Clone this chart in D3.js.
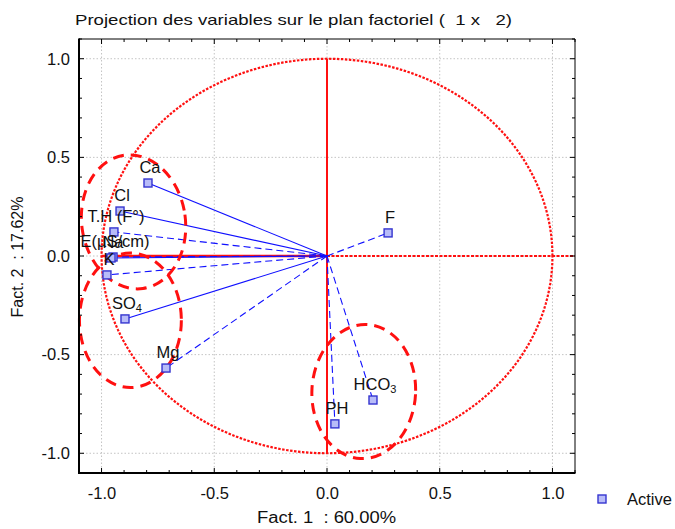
<!DOCTYPE html>
<html><head><meta charset="utf-8">
<script src="https://cdn.jsdelivr.net/npm/d3@7"></script>
<style>body{margin:0;background:#fff}svg{display:block;font-family:Arial,"Liberation Sans",sans-serif}</style>
</head><body><svg id="c" width="675" height="529"></svg>
<script>
const title = "Projection des variables sur le plan factoriel (  1 x   2)";
const xTitle = "Fact. 1  : 60.00%";
const yTitle = "Fact. 2  : 17.62%";
const tickValues = [-1.0, -0.5, 0.0, 0.5, 1.0];
const variables = ["Ca", "Cl", "T.H (F°)", "E(µS/cm)", "Na", "K", "SO|4", "Mg", "F", "HCO|3", "PH"];
const fact1 = [-0.794, -0.918, -0.945, -0.949, -0.958, -0.976, -0.896, -0.714, 0.271, 0.204, 0.035];
const fact2 = [0.370, 0.228, 0.122, -0.005, -0.010, -0.096, -0.319, -0.568, 0.117, -0.730, -0.851];
const lineDashed = [false, false, true, true, false, true, false, true, true, true, true];
const groupCx = [-0.858, -0.872, 0.163];
const groupCy = [0.173, -0.326, -0.687];
const groupRx = [0.230, 0.226, 0.230];
const groupRy = [0.341, 0.341, 0.340];
const groupRot = [-8, 0, 3];
const legendLabel = "Active";

const svg = d3.select("#c");
const x = d3.scaleLinear().domain([-1.1, 1.1]).range([79, 575]);
const y = d3.scaleLinear().domain([-1.1, 1.1]).range([473, 39]);
const [x0, x1] = x.range(), [y0, y1] = y.range();

// grid
const g = svg.append("g");
tickValues.forEach(v => {
  g.append("line").attr("x1", x(v)).attr("x2", x(v)).attr("y1", y1).attr("y2", y0)
    .attr("stroke", "#c4c4c4").attr("stroke-dasharray", "1.5,2");
  g.append("line").attr("y1", y(v)).attr("y2", y(v)).attr("x1", x0).attr("x2", x1)
    .attr("stroke", "#c4c4c4").attr("stroke-dasharray", "1.5,2");
});

// unit circle
const circ = d3.range(0, 361, 2).map(a => [Math.cos(a * Math.PI / 180), Math.sin(a * Math.PI / 180)]);
svg.append("path").attr("d", d3.line().x(d => x(d[0])).y(d => y(d[1]))(circ))
  .attr("fill", "none").attr("stroke", "#ff1010").attr("stroke-width", 2.2).attr("stroke-dasharray", "2.5,1.5");

// red axes
svg.append("line").attr("x1", x(0)).attr("x2", x(0)).attr("y1", y(1)).attr("y2", y(-1))
  .attr("stroke", "#ff1010").attr("stroke-width", 2);
svg.append("line").attr("x1", x(-1)).attr("x2", x(0)).attr("y1", y(0)).attr("y2", y(0))
  .attr("stroke", "#ff1010").attr("stroke-width", 2.5);
svg.append("line").attr("x1", x(0)).attr("x2", x(1.1)).attr("y1", y(0)).attr("y2", y(0))
  .attr("stroke", "#ff1010").attr("stroke-width", 2).attr("stroke-dasharray", "3,1.5");

// vectors
variables.forEach((v, i) => {
  svg.append("line").attr("x1", x(0)).attr("y1", y(0)).attr("x2", x(fact1[i])).attr("y2", y(fact2[i]))
    .attr("stroke", "#1010ff").attr("stroke-width", 1.1)
    .attr("stroke-dasharray", lineDashed[i] ? "7,4" : null);
});

// ellipses
groupCx.forEach((c, i) => {
  const rx = x(groupRx[i]) - x(0), ry = y(0) - y(groupRy[i]);
  svg.append("ellipse").attr("cx", 0).attr("cy", 0).attr("rx", rx).attr("ry", ry)
    .attr("transform", `translate(${x(c)},${y(groupCy[i])}) rotate(${groupRot[i]})`)
    .attr("fill", "none").attr("stroke", "#ff1010").attr("stroke-width", 3).attr("stroke-dasharray", "11,7");
});

// markers
function marker(sel, cx, cy) {
  sel.append("rect").attr("x", cx - 4).attr("y", cy - 4).attr("width", 8).attr("height", 8)
    .attr("fill", "#b8bcf8").attr("stroke", "#3535d0").attr("stroke-width", 1.4);
}
variables.forEach((v, i) => marker(svg, x(fact1[i]), y(fact2[i])));

// labels
variables.forEach((v, i) => {
  const parts = v.split("|");
  const t = svg.append("text").attr("x", x(fact1[i]) + 2).attr("y", y(fact2[i]) - 10)
    .attr("text-anchor", "middle").attr("font-size", 16.5).attr("fill", "#111");
  t.append("tspan").text(parts[0]);
  if (parts[1]) t.append("tspan").attr("font-size", 11).attr("dy", 3).text(parts[1]);
});

// frame
svg.append("line").attr("x1", x0).attr("x2", x1).attr("y1", y1).attr("y2", y1).attr("stroke", "#000").attr("stroke-width", 1);
svg.append("line").attr("x1", x1).attr("x2", x1).attr("y1", y1).attr("y2", y0).attr("stroke", "#000").attr("stroke-width", 1);
svg.append("line").attr("x1", x0).attr("x2", x1 + 0.5).attr("y1", y0).attr("y2", y0).attr("stroke", "#000").attr("stroke-width", 2);
svg.append("line").attr("x1", x0).attr("x2", x0).attr("y1", y1 - 0.5).attr("y2", y0 + 1).attr("stroke", "#000").attr("stroke-width", 2);

// ticks (inside, all sides)
const minor = d3.range(-11, 12).map(k => k / 10);
minor.forEach(v => {
  const L = Math.abs(Math.round(v * 10)) % 5 === 0 ? 5 : 3;
  svg.append("line").attr("x1", x(v)).attr("x2", x(v)).attr("y1", y0).attr("y2", y0 - L).attr("stroke", "#000");
  svg.append("line").attr("x1", x(v)).attr("x2", x(v)).attr("y1", y1).attr("y2", y1 + L).attr("stroke", "#000");
  svg.append("line").attr("y1", y(v)).attr("y2", y(v)).attr("x1", x0).attr("x2", x0 + L).attr("stroke", "#000");
  svg.append("line").attr("y1", y(v)).attr("y2", y(v)).attr("x1", x1).attr("x2", x1 - L).attr("stroke", "#000");
});

// tick labels via axes (no lines)
const fmt = d => d.toFixed(1);
const xa = svg.append("g").attr("transform", `translate(0,${y0 + 7})`)
  .call(d3.axisBottom(x).tickValues(tickValues).tickFormat(fmt).tickSize(0));
xa.select(".domain").remove();
xa.selectAll("text").attr("font-size", 16.5).attr("fill", "#111").attr("font-family", "Arial, Liberation Sans").attr("dy", "0.95em");
const ya = svg.append("g").attr("transform", `translate(${x0 - 6},0)`)
  .call(d3.axisLeft(y).tickValues(tickValues).tickFormat(fmt).tickSize(0));
ya.select(".domain").remove();
ya.selectAll("text").attr("font-size", 16.5).attr("fill", "#111").attr("font-family", "Arial, Liberation Sans");

// titles
svg.append("text").attr("x", 75).attr("y", 25).attr("font-size", 15).attr("fill", "#111")
  .style("white-space", "pre").attr("xml:space", "preserve")
  .attr("textLength", 437).attr("lengthAdjust", "spacingAndGlyphs").text(title);
svg.append("text").attr("x", 257).attr("y", 523).attr("font-size", 16).attr("fill", "#111")
  .style("white-space", "pre")
  .attr("textLength", 139).attr("lengthAdjust", "spacingAndGlyphs").text(xTitle);
svg.append("text").attr("transform", "translate(23,257) rotate(-90)").attr("text-anchor", "middle")
  .style("white-space", "pre").attr("font-size", 16).attr("fill", "#111").text(yTitle);

// legend
marker(svg, 602, 499);
svg.append("text").attr("x", 627).attr("y", 505).attr("font-size", 16.5).attr("fill", "#111").text(legendLabel);
</script></body></html>
